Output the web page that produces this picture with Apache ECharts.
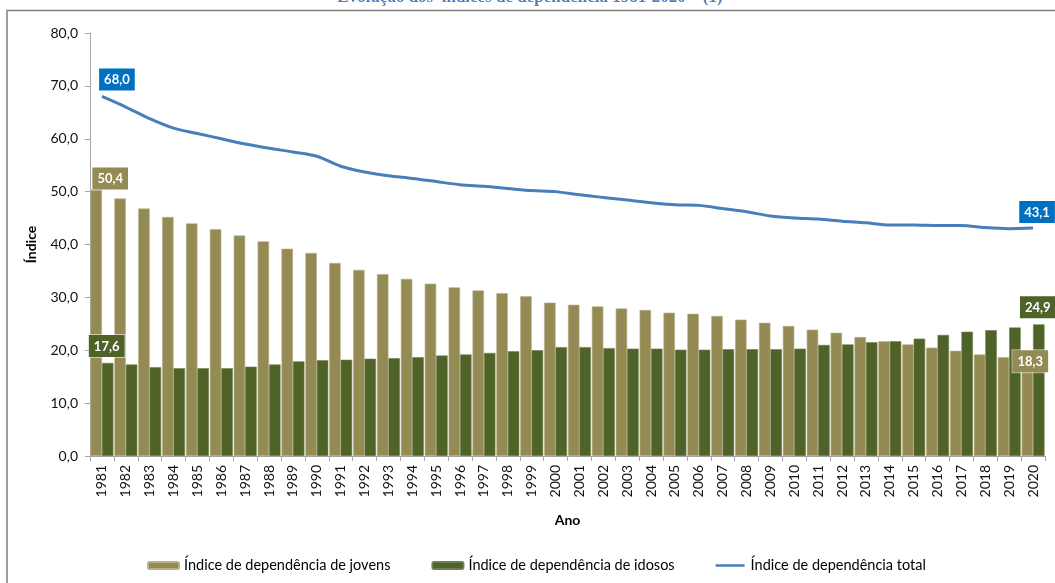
<!DOCTYPE html>
<html lang="pt">
<head>
<meta charset="UTF-8">
<title>Índices de dependência</title>
<script src="https://cdn.jsdelivr.net/npm/echarts@6/dist/echarts.min.js"></script>
<style>
  html, body { margin: 0; padding: 0; background: #fff; }
  #chart { width: 1055px; height: 583px; }
</style>
</head>
<body>
<div id="chart"></div>
<script>
// dados
var anos = ['1981','1982','1983','1984','1985','1986','1987','1988','1989','1990',
  '1991','1992','1993','1994','1995','1996','1997','1998','1999','2000',
  '2001','2002','2003','2004','2005','2006','2007','2008','2009','2010',
  '2011','2012','2013','2014','2015','2016','2017','2018','2019','2020'];
var jovens = [50.4,48.7,46.8,45.2,44.0,42.9,41.7,40.6,39.2,38.4,36.5,35.2,34.4,33.5,
  32.6,31.9,31.3,30.8,30.2,29.0,28.6,28.3,27.9,27.6,27.1,26.9,26.5,
  25.8,25.2,24.6,23.9,23.3,22.5,21.7,21.1,20.5,19.9,19.2,18.7,18.3];
var idosos = [17.6,17.3,16.8,16.6,16.6,16.6,16.9,17.3,17.9,18.1,18.2,18.4,18.5,18.7,
  19.0,19.2,19.5,19.8,20.0,20.6,20.6,20.4,20.3,20.3,20.1,20.1,20.2,
  20.2,20.2,20.3,21.0,21.1,21.5,21.7,22.2,22.9,23.5,23.8,24.3,24.9];
var total = [68.0,66.0,63.8,62.0,61.0,60.0,59.0,58.2,57.5,56.7,54.8,53.7,53.0,52.5,
  51.9,51.3,51.0,50.6,50.2,50.0,49.4,48.9,48.4,47.9,47.5,47.4,46.8,
  46.2,45.4,45.0,44.8,44.4,44.1,43.7,43.7,43.6,43.6,43.2,43.0,43.1];

var nomes = ['Índice de dependência de jovens', 'Índice de dependência de idosos', 'Índice de dependência total'];
var cores = ['#948A54', '#4F6228', '#4A7EBB'];

var fonte = 'Lato, "Open Sans", sans-serif';

function virgula(v) {
  return Number(v).toFixed(1).replace('.', ',');
}

function caixa(bg, extra) {
  var o = {
    show: true,
    position: 'top',
    formatter: function (p) { return virgula(p.value); },
    color: '#fff',
    fontFamily: fonte,
    fontWeight: 'bold',
    fontSize: 13,
    backgroundColor: bg,
    borderColor: 'rgba(255,255,255,0.55)',
    borderWidth: 1,
    padding: [5, 5, 4, 5]
  };
  for (var k in extra) o[k] = extra[k];
  return o;
}

// só o primeiro e o último ponto levam rótulo
var ult = anos.length - 1;
var dadosJovens = jovens.map(function (v, i) {
  if (i === 0) return { value: v, label: caixa(cores[0], { distance: 0, offset: [14, 0] }) };
  if (i === ult) return { value: v, label: caixa(cores[0], { distance: 0, offset: [3, 13] }) };
  return v;
});
var dadosIdosos = idosos.map(function (v, i) {
  if (i === 0) return { value: v, label: caixa(cores[1], { distance: 6, offset: [-1, 0] }) };
  if (i === ult) return { value: v, label: caixa(cores[1], { distance: 6, offset: [-1, 0] }) };
  return v;
});
var dadosTotal = total.map(function (v, i) {
  if (i === 0) return { value: v, symbol: 'circle', symbolSize: 0.1, label: caixa('#0070C0', { distance: 6, offset: [15, 0] }) };
  if (i === ult) return { value: v, symbol: 'circle', symbolSize: 0.1, label: caixa('#0070C0', { distance: 5, offset: [4, 0] }) };
  return v;
});

var chart = echarts.init(document.getElementById('chart'));

chart.setOption({
  animation: false,
  textStyle: { fontFamily: fonte },
  graphic: [
    {
      type: 'rect',
      shape: { x: 7, y: 10.5, width: 1200, height: 800 },
      style: { fill: null, stroke: '#7F7F7F', lineWidth: 1.5 },
      silent: true
    },
    {
      type: 'text',
      x: 530, y: 6,
      style: {
        text: 'Evolução dos  índices de dependência 1981-2020 – (1)',
        fill: '#4F81BD',
        font: 'bold 17px "Liberation Serif", "DejaVu Serif", serif',
        align: 'center',
        verticalAlign: 'bottom'
      },
      silent: true
    }
  ],
  grid: { left: 90, right: 10, top: 33, bottom: 127 },
  legend: {
    data: [
      nomes[0],
      nomes[1],
      // traço fino para a linha, sem marcador
      { name: nomes[2], icon: 'path://M0,0L0.01,0M0,2.5H31V5H0ZM0,7.5L0.01,7.5' }
    ],
    left: 142,
    top: 553,
    itemWidth: 31,
    itemHeight: 7,
    itemGap: 41,
    textStyle: { fontFamily: fonte, fontSize: 14.5, color: '#000' }
  },
  xAxis: {
    type: 'category',
    data: anos,
    boundaryGap: true,
    name: 'Ano',
    nameLocation: 'middle',
    nameGap: 57,
    nameTextStyle: { fontFamily: fonte, fontWeight: 'bold', fontSize: 14, color: '#000' },
    axisLine: { lineStyle: { color: '#A6A6A6', width: 1 } },
    axisTick: { show: true, length: 5, lineStyle: { color: '#A6A6A6' } },
    axisLabel: { rotate: 90, interval: 0, margin: 9, fontFamily: fonte, fontSize: 14, color: '#111' },
    splitLine: { show: false }
  },
  yAxis: {
    type: 'value',
    min: 0,
    max: 80,
    interval: 10,
    name: 'Índice',
    nameLocation: 'middle',
    nameGap: 52,
    nameRotate: 90,
    nameTextStyle: { fontFamily: fonte, fontWeight: 'bold', fontSize: 14, color: '#000' },
    axisLine: { show: true, lineStyle: { color: '#A6A6A6', width: 1 } },
    axisTick: { show: true, length: 5, lineStyle: { color: '#A6A6A6' } },
    axisLabel: { formatter: virgula, margin: 12, fontFamily: fonte, fontSize: 14, color: '#111' },
    splitLine: { show: false }
  },
  series: [
    {
      name: nomes[0],
      type: 'bar',
      data: dadosJovens,
      barGap: '0%',
      barCategoryGap: '4%',
      itemStyle: { color: cores[0], borderColor: '#B9B18A', borderWidth: 0.6 },
      z: 2
    },
    {
      name: nomes[1],
      type: 'bar',
      data: dadosIdosos,
      itemStyle: { color: cores[1], borderColor: '#6E7F4E', borderWidth: 0.6 },
      z: 2
    },
    {
      name: nomes[2],
      type: 'line',
      data: dadosTotal,
      symbol: 'none',
      smooth: 0.3,
      lineStyle: { color: cores[2], width: 3 },
      itemStyle: { color: cores[2] },
      z: 3
    }
  ]
});
</script>
</body>
</html>
